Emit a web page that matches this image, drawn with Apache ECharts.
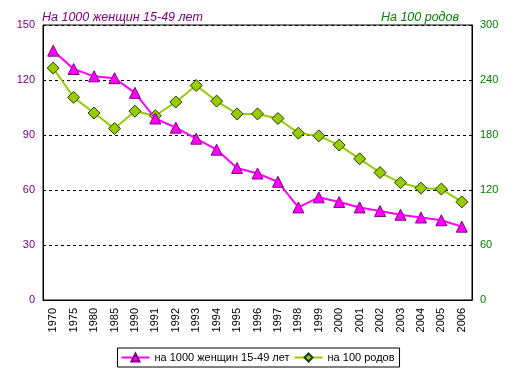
<!DOCTYPE html>
<html><head><meta charset="utf-8">
<script src="https://cdn.jsdelivr.net/npm/echarts@6/dist/echarts.min.js"></script>
<style>html,body{margin:0;padding:0;background:#fff}#c{width:515px;height:375px}</style>
</head><body><div id="c"></div>
<script>
var years = ['1970','1975','1980','1985','1990','1991','1992','1993','1994','1995','1996','1997','1998','1999','2000','2001','2002','2003','2004','2005','2006'];
var perWomen = [136,126,122,121,113,99,94,88,82,72,69,64.5,50.5,56,53.5,50.5,48.5,46.5,45,43.5,40];
var perBirths = [253,221,204,187,206,201,216,234,217,203,203,198,182,179,169,154,139,128,122,121,107];
var leftTicks = {min:0, max:150, interval:30};
var rightTicks = {min:0, max:300, interval:60};
var leftName = 'на 1000 женщин 15-49 лет';
var rightName = 'на 100 родов';

var chart = echarts.init(document.getElementById('c'));
var font = 'Liberation Sans, Arial, sans-serif';
chart.setOption({
  animation:false,
  title:[
    {text:'На 1000 женщин 15-49 лет', left:37, top:6, textStyle:{fontFamily:font,fontSize:12.5,fontStyle:'italic',fontWeight:'normal',color:'#800080'}},
    {text:'На 100 родов', right:51, top:6, textStyle:{fontFamily:font,fontSize:12.5,fontStyle:'italic',fontWeight:'normal',color:'#008000'}}
  ],
  grid:{left:43, right:43, top:25, bottom:75, show:true, borderColor:'#000', borderWidth:1},
  legend:{
    bottom:8, left:'center', itemWidth:28, itemHeight:10, itemGap:4,
    borderColor:'#000', borderWidth:1, borderRadius:0, padding:[4,5,4,3],
    textStyle:{fontFamily:font, fontSize:11, color:'#000'},
    data:[leftName, rightName]
  },
  xAxis:{
    type:'category', data:years, boundaryGap:true,
    axisLine:{lineStyle:{color:'#000'}}, axisTick:{show:false},
    axisLabel:{rotate:90, margin:8, fontFamily:font, fontSize:11, color:'#000', interval:0}
  },
  yAxis:[
    {type:'value', min:leftTicks.min, max:leftTicks.max, interval:leftTicks.interval,
     axisLine:{show:true, lineStyle:{color:'#000'}}, axisTick:{show:false},
     axisLabel:{fontFamily:font, fontSize:11, color:'#800080', margin:8},
     splitLine:{show:true, lineStyle:{color:'#000', type:[3,3], width:1}}},
    {type:'value', min:rightTicks.min, max:rightTicks.max, interval:rightTicks.interval,
     axisLine:{show:true, lineStyle:{color:'#000'}}, axisTick:{show:false},
     axisLabel:{fontFamily:font, fontSize:11, color:'#008000', margin:8},
     splitLine:{show:false}}
  ],
  series:[
    {name:leftName, type:'line', yAxisIndex:0, data:perWomen, symbol:'triangle', symbolSize:11,
     lineStyle:{color:'#FF00FF', width:2}, itemStyle:{color:'#FF00FF', borderColor:'#800080', borderWidth:1}, z:3},
    {name:rightName, type:'line', yAxisIndex:1, data:perBirths, symbol:'diamond', symbolSize:12,
     lineStyle:{color:'#99CC00', width:2}, itemStyle:{color:'#99CC00', borderColor:'#1a4000', borderWidth:1}, z:2}
  ]
});
</script></body></html>
